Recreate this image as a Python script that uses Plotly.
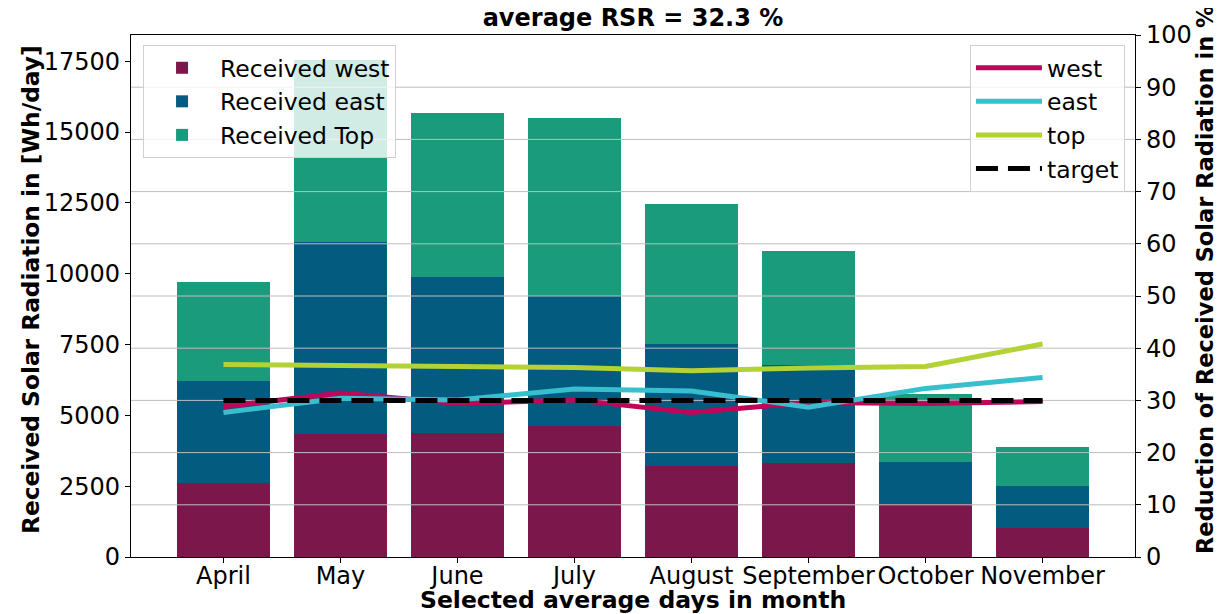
import plotly.graph_objects as go

months = ["April", "May", "June", "July", "August", "September", "October", "November"]

received_west = [2610, 4340, 4380, 4610, 3200, 3310, 1880, 1040]
received_east = [3610, 6790, 5500, 4610, 4310, 3460, 1470, 1460]
received_top = [3480, 6420, 5810, 6270, 4950, 4030, 2420, 1380]

rsr_west = [28.8, 31.4, 29.4, 30.1, 27.7, 29.6, 29.4, 29.8]
rsr_east = [27.7, 30.4, 30.1, 32.2, 31.8, 28.7, 32.3, 34.4]
rsr_top = [36.9, 36.8, 36.5, 36.3, 35.7, 36.2, 36.5, 40.8]
rsr_target = [30] * len(months)

left_ticks = [0, 2500, 5000, 7500, 10000, 12500, 15000, 17500]
right_ticks = [0, 10, 20, 30, 40, 50, 60, 70, 80, 90, 100]

FONT = "DejaVu Sans"
FS = 24
# page has an 8px body margin: figure is sized so the whole chart fits the window
W, H = 1217, 606
ML, MT, PW, PH = 123, 27, 1004, 522
MR, MB = W - ML - PW, H - MT - PH

xpos = list(range(len(months)))
xr = [-0.79, len(months) - 1 + 0.79]
totals = [a + b + c for a, b, c in zip(received_west, received_east, received_top)]
ymax_left = max(totals) * 1.05

fig = go.Figure()

bar_specs = [
    ("Received west", received_west, "#7B174B"),
    ("Received east", received_east, "#035B7F"),
    ("Received Top", received_top, "#1A9C7C"),
]
for name, vals, col in bar_specs:
    fig.add_trace(go.Bar(
        x=xpos, y=vals, name=name, marker=dict(color=col, line=dict(width=0)),
        width=0.8, legend="legend", yaxis="y",
    ))

# grid lines of the right axis drawn above the bars (as in the twin-axis original)
gx, gy = [], []
for t in right_ticks[1:-1]:
    gx += [xr[0], xr[1], None]
    gy += [t, t, None]
fig.add_trace(go.Scatter(
    x=gx, y=gy, mode="lines", line=dict(color="#bdbdbd", width=1),
    showlegend=False, hoverinfo="skip", yaxis="y2",
))

line_specs = [
    ("west", rsr_west, "#C0065A", "solid"),
    ("east", rsr_east, "#38BFCE", "solid"),
    ("top", rsr_top, "#B2D235", "solid"),
    ("target", rsr_target, "#000000", "22px,10px"),
]
for name, vals, col, dash in line_specs:
    fig.add_trace(go.Scatter(
        x=xpos, y=vals, name=name, mode="lines",
        line=dict(color=col, width=5, dash=dash),
        legend="legend2", yaxis="y2",
    ))

axis_common = dict(
    showline=True, linecolor="black", linewidth=1.2,
    ticks="outside", ticklen=5, tickcolor="black", tickwidth=1.2,
    tickfont=dict(family=FONT, size=FS, color="black"),
    zeroline=False, showgrid=False, automargin=False,
)

title_font = dict(family=FONT, size=FS, color="black")


def py(page_y):
    """paper y for a page-pixel y (page has 8px offset)"""
    return 1 - (page_y - 8 - MT) / PH


fig.update_layout(
    width=W, height=H, autosize=False,
    paper_bgcolor="white", plot_bgcolor="white",
    margin=dict(l=ML, r=MR, t=MT, b=MB, autoexpand=False),
    barmode="stack",
    font=dict(family=FONT, size=FS, color="black"),
    title=dict(
        text="<b>average RSR = 32.3 %</b>", x=0.5, xref="paper", xanchor="center",
        y=1 - 10 / H, yref="container", yanchor="middle",
        font=title_font,
    ),
    xaxis=dict(
        **axis_common, mirror=True, range=xr,
        tickmode="array", tickvals=xpos, ticktext=months, ticklabelstandoff=-8,
    ),
    yaxis=dict(
        **axis_common, range=[0, ymax_left],
        tickmode="array", tickvals=left_ticks, ticktext=[str(t) for t in left_ticks],
    ),
    yaxis2=dict(
        **axis_common, overlaying="y", side="right", range=[0, 100],
        tickmode="array", tickvals=right_ticks,
    ),
    legend=dict(
        x=0.012, y=py(45), xanchor="left", yanchor="top", traceorder="normal",
        bgcolor="rgba(255,255,255,0.8)", bordercolor="#d0d0d0", borderwidth=1,
        font=dict(family=FONT, size=23.5, color="black"), itemwidth=66,
    ),
    legend2=dict(
        x=0.99, y=py(45), xanchor="right", yanchor="top", traceorder="normal",
        bgcolor="rgba(255,255,255,0.8)", bordercolor="#d0d0d0", borderwidth=1,
        font=dict(family=FONT, size=23.5, color="black"), itemwidth=66,
    ),
    showlegend=True,
    annotations=[
        dict(text="<b>Selected average days in month</b>", xref="paper", yref="paper",
             x=0.5, y=py(600), xanchor="center", yanchor="middle",
             showarrow=False, font=dict(family=FONT, size=23.5, color="black")),
        dict(text="<b>Received Solar Radiation in [Wh/day]</b>", xref="paper", yref="paper",
             x=-101 / PW, y=py(290), xanchor="center", yanchor="middle", textangle=-90,
             showarrow=False, font=dict(family=FONT, size=23.3, color="black")),
        dict(text="<b>Reduction of Received Solar Radiation in %</b>", xref="paper", yref="paper",
             x=1 + 70 / PW, y=py(280), xanchor="center", yanchor="middle", textangle=-90,
             showarrow=False, font=dict(family=FONT, size=22.5, color="black")),
    ],
)

fig.write_html("out.html")
